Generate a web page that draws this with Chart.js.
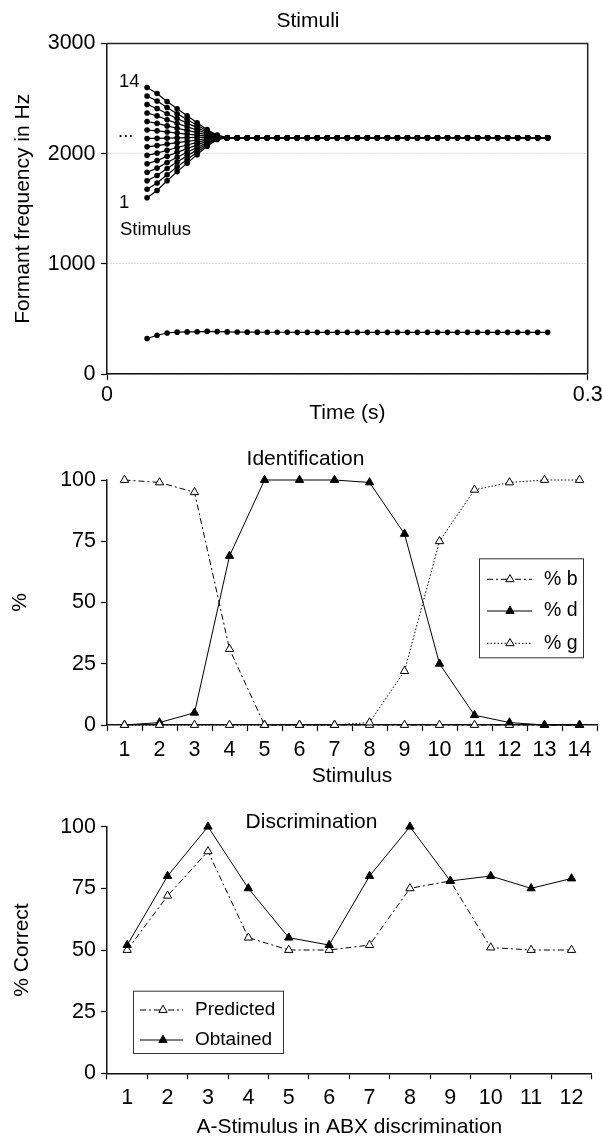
<!DOCTYPE html>
<html>
<head>
<meta charset="utf-8">
<script src="https://cdn.jsdelivr.net/npm/chart.js@4.4.1/dist/chart.umd.min.js"></script>
<style>
  html, body { margin: 0; padding: 0; background: #fff; }
  body { width: 603px; height: 1138px; position: relative; overflow: hidden; }
  canvas { position: absolute; left: 0; }
</style>
</head>
<body>
<canvas id="stimuli" width="603" height="430" style="top:0px"></canvas>
<canvas id="ident" width="603" height="360" style="top:430px"></canvas>
<canvas id="discr" width="603" height="348" style="top:790px"></canvas>
<script>
// ---- data: Stimuli (formant tracks) ----
const times = [
  0.025, 0.03125, 0.0375, 0.04375, 0.05, 0.05625, 0.0625, 0.06875, 0.075, 0.08125,
  0.0875, 0.09375, 0.1, 0.10625, 0.1125, 0.11875, 0.125, 0.13125, 0.1375, 0.14375,
  0.15, 0.15625, 0.1625, 0.16875, 0.175, 0.18125, 0.1875, 0.19375, 0.2, 0.20625,
  0.2125, 0.21875, 0.225, 0.23125, 0.2375, 0.24375, 0.25, 0.25625, 0.2625, 0.26875,
  0.275
];
// F2 onset transitions, stimulus 1..14 (first 8 frames)
const f2Onsets = [
  [1600, 1666, 1754, 1837, 1914, 1991, 2068, 2128],
  [1677, 1734, 1809, 1880, 1947, 2013, 2079, 2131],
  [1754, 1802, 1865, 1924, 1980, 2035, 2091, 2134],
  [1831, 1869, 1920, 1968, 2013, 2057, 2102, 2137],
  [1908, 1937, 1976, 2012, 2046, 2080, 2114, 2140],
  [1985, 2005, 2031, 2056, 2079, 2102, 2125, 2143],
  [2062, 2073, 2087, 2100, 2112, 2124, 2137, 2146],
  [2138, 2139, 2141, 2143, 2145, 2147, 2148, 2148],
  [2215, 2207, 2197, 2187, 2178, 2169, 2160, 2153],
  [2292, 2275, 2252, 2231, 2211, 2191, 2171, 2156],
  [2369, 2343, 2308, 2275, 2244, 2214, 2183, 2159],
  [2446, 2410, 2363, 2319, 2277, 2236, 2194, 2162],
  [2523, 2478, 2419, 2363, 2310, 2258, 2206, 2165],
  [2600, 2546, 2474, 2407, 2344, 2281, 2218, 2168]
];
// F2 steady state (remaining 33 frames)
const f2Steady = [
  2145, 2145, 2145, 2145, 2145, 2145, 2145, 2145, 2145, 2145,
  2145, 2145, 2145, 2145, 2145, 2145, 2145, 2145, 2145, 2145,
  2145, 2145, 2145, 2145, 2145, 2145, 2145, 2145, 2145, 2145,
  2145, 2145, 2145
];
const f1Hz = [
  322, 352, 372, 380, 382, 383, 387, 385, 382, 381,
  380, 380, 379, 379, 379, 378, 378, 378, 378, 378,
  378, 378, 378, 378, 378, 378, 378, 378, 378, 378,
  378, 378, 378, 378, 378, 378, 378, 378, 378, 378,
  378
];
const timeTicks = [0, 0.3];

// ---- data: Identification ----
const stimulusLabels = ['1', '2', '3', '4', '5', '6', '7', '8', '9', '10', '11', '12', '13', '14'];
const pctB = [100, 99, 95, 31, 0, 0, 0, 0, 0, 0, 0, 0, 0, 0];
const pctD = [0, 1, 5, 69, 100, 100, 100, 99, 78, 25, 4, 1, 0, 0];
const pctG = [0, 0, 0, 0, 0, 0, 0, 1, 22, 75, 96, 99, 100, 100];

// ---- data: Discrimination ----
const abxLabels = ['1', '2', '3', '4', '5', '6', '7', '8', '9', '10', '11', '12'];
const predicted = [50, 72, 90, 55, 50, 50, 52, 75, 78, 51, 50, 50];
const obtained = [52, 80, 100, 75, 55, 52, 80, 100, 78, 80, 75, 79];

const FONT = "'Liberation Sans', Arial, Helvetica, sans-serif";
Chart.defaults.font.family = FONT;
Chart.defaults.color = '#000';

const TICK_FONT = { size: 21.5, lineHeight: 1 };
const TITLE_FONT = { size: 21, lineHeight: 1 };
const AXIS = '#111';

// fixed scale sizes so the plot areas land where they do in the figure
const fixX = h => s => { s.height = h; s.paddingLeft = 0; s.paddingRight = 0; s.paddingTop = 0; s.paddingBottom = 0; };
const fixY = w => s => { s.width = w; s.paddingLeft = 0; s.paddingRight = 0; s.paddingTop = 0; s.paddingBottom = 0; };

function notes(items) {
  return {
    id: 'notes',
    afterDraw(chart) {
      const ctx = chart.ctx;
      ctx.save();
      ctx.fillStyle = '#000';
      ctx.textBaseline = 'alphabetic';
      items.forEach(n => {
        ctx.font = n.size + 'px ' + FONT;
        ctx.textAlign = n.align || 'left';
        ctx.fillText(n.text, n.x, n.y);
      });
      ctx.restore();
    }
  };
}

function drawTriangle(ctx, x, y, r, fill) {
  ctx.beginPath();
  ctx.moveTo(x, y - r);
  ctx.lineTo(x + 0.866 * r, y + 0.5 * r);
  ctx.lineTo(x - 0.866 * r, y + 0.5 * r);
  ctx.closePath();
  ctx.fillStyle = fill;
  ctx.fill();
  ctx.lineWidth = 1;
  ctx.strokeStyle = '#000';
  ctx.stroke();
}

function boxLegend(box) {
  return {
    id: 'boxLegend',
    afterDraw(chart) {
      const ctx = chart.ctx;
      ctx.save();
      ctx.strokeStyle = '#333';
      ctx.lineWidth = 1;
      ctx.strokeRect(box.x + 0.5, box.y + 0.5, box.w, box.h);
      chart.data.datasets.forEach((ds, i) => {
        const y = box.rows[i];
        ctx.strokeStyle = ds.borderColor;
        ctx.lineWidth = ds.borderWidth;
        ctx.setLineDash(ds.borderDash || []);
        ctx.beginPath();
        ctx.moveTo(box.x0, y);
        ctx.lineTo(box.x1, y);
        ctx.stroke();
        ctx.setLineDash([]);
        drawTriangle(ctx, box.xm, y, ds.pointRadius, ds.pointBackgroundColor);
        ctx.fillStyle = '#000';
        ctx.font = box.size + 'px ' + FONT;
        ctx.textAlign = 'left';
        ctx.textBaseline = 'middle';
        ctx.fillText(ds.label, box.xt, y);
      });
      ctx.restore();
    }
  };
}

const frame = {
  id: 'frame',
  afterDraw(chart) {
    const { ctx, chartArea: a } = chart;
    ctx.save();
    ctx.strokeStyle = '#222';
    ctx.lineWidth = 1.5;
    ctx.beginPath();
    ctx.moveTo(a.left, a.top);
    ctx.lineTo(a.right, a.top);
    ctx.lineTo(a.right, a.bottom);
    ctx.stroke();
    ctx.restore();
  }
};

// ---------- Chart 1: Stimuli ----------
const trackStyle = {
  borderColor: '#000', borderWidth: 1.2, tension: 0, clip: false,
  pointRadius: 2.8, pointBackgroundColor: '#000', pointBorderWidth: 0
};
const stimDatasets = f2Onsets.map((onset, k) => {
  const series = onset.concat(f2Steady);
  return Object.assign({ label: 'F2 ' + (k + 1), data: times.map((t, i) => ({ x: t, y: series[i] })) }, trackStyle);
});
stimDatasets.push(Object.assign({ label: 'F1', data: times.map((t, i) => ({ x: t, y: f1Hz[i] })) }, trackStyle));

new Chart(document.getElementById('stimuli'), {
  type: 'line',
  data: { datasets: stimDatasets },
  options: {
    responsive: false,
    animation: false,
    events: [],
    layout: { padding: { top: 43.5, right: 15.3, left: 0, bottom: 0 } },
    plugins: { legend: { display: false }, tooltip: { enabled: false } },
    scales: {
      x: {
        type: 'linear', min: 0, max: 0.3,
        afterBuildTicks: s => { s.ticks = timeTicks.map(v => ({ value: v })); },
        afterFit: fixX(56),
        ticks: { font: TICK_FONT, padding: 4.3, maxRotation: 0, callback: v => String(v) },
        grid: { drawOnChartArea: false, tickLength: 6, tickColor: '#000', tickWidth: 1.2 },
        border: { color: AXIS, width: 1.5 },
        title: { display: true, text: 'Time (s)', font: TITLE_FONT, padding: { top: 0, bottom: 6.5 } }
      },
      y: {
        min: 0, max: 3000,
        afterFit: fixY(107),
        ticks: { stepSize: 1000, font: TICK_FONT, padding: 5.5, callback: v => String(v) },
        grid: { color: '#bdbdbd', lineWidth: 1, tickLength: 6, tickColor: '#000', tickWidth: 1.2, tickBorderDash: [] },
        border: { color: AXIS, width: 1.5, dash: [1, 2] },
        title: { display: true, text: 'Formant frequency in Hz', font: TITLE_FONT, padding: { top: 12.5, bottom: 0 } }
      }
    }
  },
  plugins: [frame, notes([
    { text: 'Stimuli', x: 308, y: 27.3, size: 21, align: 'center' },
    { text: '14', x: 119, y: 86.7, size: 18.5 },
    { text: '...', x: 118, y: 137, size: 18.5 },
    { text: '1', x: 119, y: 208.3, size: 18.5 },
    { text: 'Stimulus', x: 120, y: 235, size: 18.5 }
  ])]
});

// ---------- Chart 2: Identification ----------
const catScaleX = (h, pad, titleText, titlePad) => ({
  type: 'category',
  offset: true,
  afterFit: fixX(h),
  ticks: { font: TICK_FONT, padding: pad, maxRotation: 0, autoSkip: false },
  grid: { offset: true, drawOnChartArea: false, tickLength: 6, tickColor: '#000', tickWidth: 1.2 },
  border: { color: AXIS, width: 1.5 },
  title: { display: true, text: titleText, font: TITLE_FONT, padding: { top: 0, bottom: titlePad } }
});
const pctScaleY = (titleText, titlePad) => ({
  min: 0, max: 100,
  afterFit: fixY(107),
  ticks: { stepSize: 25, font: TICK_FONT, padding: 5 },
  grid: { drawOnChartArea: false, tickLength: 6, tickColor: '#000', tickWidth: 1.2 },
  border: { color: AXIS, width: 1.5 },
  title: { display: true, text: titleText, font: TITLE_FONT, padding: { top: titlePad, bottom: 0 } }
});
const markerStyle = (fill) => ({
  borderColor: '#000', borderWidth: 1, tension: 0, clip: false,
  pointStyle: 'triangle', pointRadius: 4.8, pointBackgroundColor: fill,
  pointBorderColor: '#000', pointBorderWidth: 1
});

new Chart(document.getElementById('ident'), {
  type: 'line',
  data: {
    labels: stimulusLabels,
    datasets: [
      Object.assign({ label: '% b', data: pctB, borderDash: [6, 3, 2, 3], order: 3 }, markerStyle('#fff')),
      Object.assign({ label: '% d', data: pctD, borderDash: [], order: 2 }, markerStyle('#000')),
      Object.assign({ label: '% g', data: pctG, borderDash: [1.5, 2], order: 1 }, markerStyle('#fff'))
    ]
  },
  options: {
    responsive: false,
    animation: false,
    events: [],
    layout: { padding: { top: 50, right: 6, left: 0, bottom: 0 } },
    plugins: { legend: { display: false }, tooltip: { enabled: false } },
    scales: {
      x: catScaleX(65, 8.2, 'Stimulus', 3.5),
      y: pctScaleY('%', 9.5)
    }
  },
  plugins: [
    notes([{ text: 'Identification', x: 305.5, y: 35, size: 21, align: 'center' }]),
    boxLegend({ x: 479, y: 128.3, w: 104, h: 99, rows: [149.3, 181, 213.3], x0: 487, x1: 532, xm: 510, xt: 544, size: 19.5 })
  ]
});

// ---------- Chart 3: Discrimination ----------
new Chart(document.getElementById('discr'), {
  type: 'line',
  data: {
    labels: abxLabels,
    datasets: [
      Object.assign({ label: 'Predicted', data: predicted, borderDash: [6, 3, 2, 3], order: 2 }, markerStyle('#fff')),
      Object.assign({ label: 'Obtained', data: obtained, borderDash: [], order: 1 }, markerStyle('#000'))
    ]
  },
  options: {
    responsive: false,
    animation: false,
    events: [],
    layout: { padding: { top: 36.7, right: 11.3, left: 0, bottom: 0 } },
    plugins: { legend: { display: false }, tooltip: { enabled: false } },
    scales: {
      x: catScaleX(64.7, 8, 'A-Stimulus in ABX discrimination', 0),
      y: pctScaleY('% Correct', 11.5)
    }
  },
  plugins: [
    notes([{ text: 'Discrimination', x: 311.5, y: 38.3, size: 21, align: 'center' }]),
    boxLegend({ x: 133, y: 200.7, w: 150, h: 62.3, rows: [220, 250], x0: 140, x1: 183, xm: 163, xt: 195, size: 19 })
  ]
});
</script>
</body>
</html>
